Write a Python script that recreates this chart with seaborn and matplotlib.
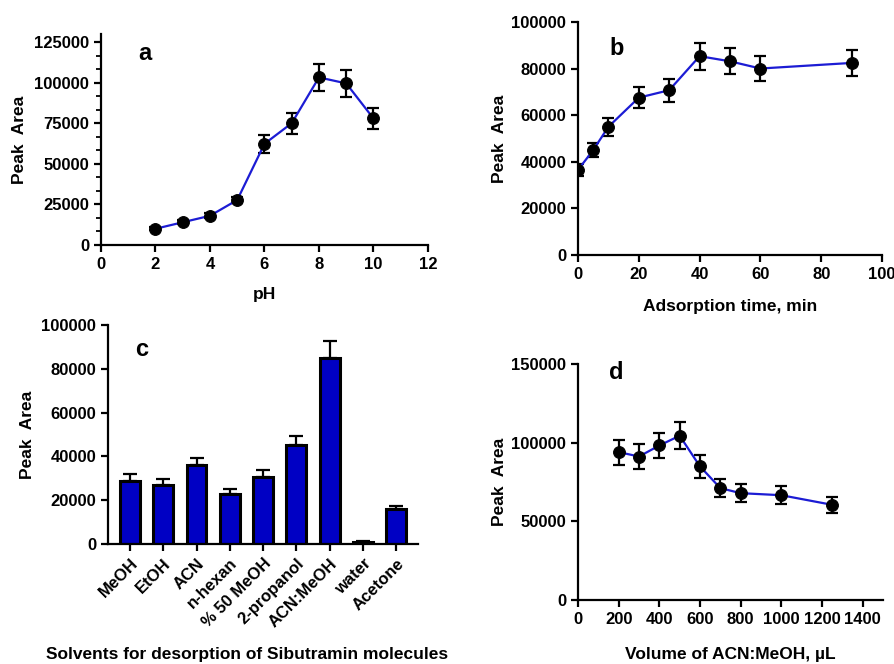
import numpy as np
import pandas as pd
import matplotlib
matplotlib.use("Agg")
import matplotlib.pyplot as plt
from matplotlib.ticker import AutoMinorLocator
import seaborn as sns

# panel a - pH
ph = [2, 3, 4, 5, 6, 7, 8, 9, 10]
ph_area = [10000, 14000, 18000, 27700, 62300, 75000, 103200, 99500, 77900]
ph_err = [1000, 1200, 1500, 1800, 5500, 6500, 8500, 8300, 6500]

# panel b - adsorption time
time_min = [0, 5, 10, 20, 30, 40, 50, 60, 90]
time_area = [36500, 45000, 55000, 67500, 70700, 85300, 83100, 80000, 82400]
time_err = [2500, 3000, 3900, 4600, 4900, 5800, 5600, 5400, 5600]

# panel c - desorption solvents
solvents = ["MeOH", "EtOH", "ACN", "n-hexan", "% 50 MeOH", "2-propanol",
            "ACN:MeOH", "water", "Acetone"]
solv_area = [29000, 26900, 35900, 22800, 30500, 45300, 84800, 800, 15800]
solv_err = [2900, 2700, 3600, 2300, 3200, 4200, 7700, 600, 1500]

# panel d - eluent volume
volume = [200, 300, 400, 500, 600, 700, 800, 1000, 1250]
vol_area = [94000, 91200, 98200, 104400, 84900, 71100, 67900, 66600, 60500]
vol_err = [8000, 7700, 8000, 8700, 7200, 5900, 5700, 5600, 5100]

sns.set_style("ticks")
plt.rcParams['font.family'] = ['Liberation Sans', 'DejaVu Sans']
plt.rcParams['font.weight'] = 'bold'
plt.rcParams['axes.labelweight'] = 'bold'
plt.rcParams['text.color'] = 'black'
plt.rcParams['axes.labelcolor'] = 'black'
plt.rcParams['axes.linewidth'] = 1.6
plt.rcParams['xtick.major.width'] = 1.6
plt.rcParams['ytick.major.width'] = 1.6
plt.rcParams['ytick.minor.width'] = 1.3
plt.rcParams['xtick.major.size'] = 5
plt.rcParams['ytick.major.size'] = 5
plt.rcParams['ytick.minor.size'] = 3.5
plt.rcParams['xtick.color'] = 'black'
plt.rcParams['ytick.color'] = 'black'
plt.rcParams['axes.edgecolor'] = 'black'

LINE = "#1c1cd4"
BAR = "#0000c4"
TICK_FS = 12
LAB_FS = 12.5

fig = plt.figure(figsize=(8.95, 6.64), dpi=100)
ax_a = fig.add_axes([0.1128, 0.631, 0.3654, 0.318])
ax_b = fig.add_axes([0.6458, 0.616, 0.3397, 0.351])
ax_c = fig.add_axes([0.1207, 0.1807, 0.3464, 0.3298])
ax_d = fig.add_axes([0.6458, 0.0964, 0.3408, 0.3554])


def line_panel(ax, x, y, err):
    df = pd.DataFrame({"x": x, "y": y})
    ax.errorbar(x, y, yerr=err, fmt="none", ecolor="black", elinewidth=1.6,
                capsize=4, capthick=1.6, zorder=3)
    sns.lineplot(data=df, x="x", y="y", ax=ax, color=LINE, linewidth=1.6,
                 marker="o", markersize=8.5, markerfacecolor="black",
                 markeredgecolor="black", zorder=4)


def style(ax, letter, lx, ly, xlab, xlab_y, ylab_x):
    sns.despine(ax=ax)
    ax.tick_params(labelsize=TICK_FS, direction="out")
    for lbl in ax.get_xticklabels() + ax.get_yticklabels():
        lbl.set_fontweight("bold")
    ax.set_ylabel("Peak  Area", fontsize=LAB_FS)
    ax.yaxis.set_label_coords(ylab_x, 0.5)
    ax.set_xlabel(xlab, fontsize=LAB_FS)
    ax.xaxis.set_label_coords(0.5, xlab_y)
    ax.text(lx, ly, letter, transform=ax.transAxes, fontsize=17,
            fontweight="bold", ha="center", va="center")


# a
line_panel(ax_a, ph, ph_area, ph_err)
ax_a.set_xlim(0, 12)
ax_a.set_ylim(0, 130000)
ax_a.set_xticks(range(0, 13, 2))
ax_a.set_yticks(range(0, 125001, 25000))
ax_a.yaxis.set_minor_locator(AutoMinorLocator(3))
style(ax_a, "a", 0.135, 0.905, "pH", -0.2, -0.226)

# b
line_panel(ax_b, time_min, time_area, time_err)
ax_b.set_xlim(0, 100)
ax_b.set_ylim(0, 100000)
ax_b.set_xticks(range(0, 101, 20))
ax_b.set_yticks(range(0, 100001, 20000))
style(ax_b, "b", 0.128, 0.884, "Adsorption time, min", -0.19, -0.234)

# c
dfc = pd.DataFrame({"solvent": solvents, "area": solv_area})
sns.barplot(data=dfc, x="solvent", y="area", ax=ax_c, color=BAR,
            saturation=1, width=0.6, edgecolor="black", linewidth=2.2,
            zorder=2)
ax_c.errorbar(range(len(solvents)), solv_area,
              yerr=[np.zeros(len(solv_err)), solv_err], fmt="none",
              ecolor="black", elinewidth=1.6, capsize=5, capthick=1.6,
              zorder=1)
ax_c.set_xlim(-0.66, 8.66)
ax_c.set_ylim(0, 100000)
ax_c.set_yticks(range(0, 100001, 20000))
style(ax_c, "c", 0.11, 0.886, "Solvents for desorption of Sibutramin molecules",
      -0.47, -0.235)
ax_c.set_xticks(range(len(solvents)))
ax_c.set_xticklabels(solvents, rotation=45, ha="right", rotation_mode="anchor",
                     fontsize=TICK_FS, fontweight="bold")
ax_c.xaxis.set_label_coords(0.45, -0.47)

# d
line_panel(ax_d, volume, vol_area, vol_err)
ax_d.set_xlim(0, 1500)
ax_d.set_ylim(0, 150000)
ax_d.set_xticks(range(0, 1401, 200))
ax_d.set_yticks(range(0, 150001, 50000))
style(ax_d, "d", 0.125, 0.962, "Volume of ACN:MeOH, \u00b5L", -0.2, -0.233)

fig.savefig("out.png", dpi=100, facecolor="white")
